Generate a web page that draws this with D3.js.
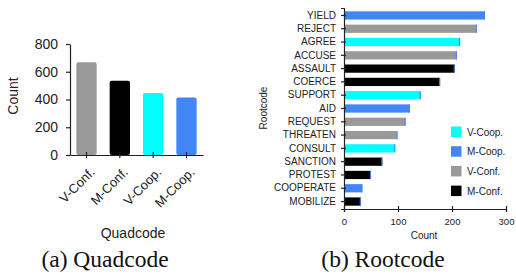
<!DOCTYPE html>
<html>
<head>
<meta charset="utf-8">
<script src="https://cdn.jsdelivr.net/npm/d3@7"></script>
<style>
  body { margin: 0; background: #fff; }
  svg { display: block; }
  .axis path, .axis line { stroke: #222; stroke-width: 1.2; }
  .axis text { fill: #222; font-family: "Liberation Sans", Arial, sans-serif; }
</style>
</head>
<body>
<script>
// ---- data ----
const quadCats = ["V-Conf.", "M-Conf.", "V-Coop.", "M-Coop."];
const quadValues = [668, 535, 447, 415];
const quadTicks = [0, 200, 400, 600, 800];

const rootCats = ["YIELD", "REJECT", "AGREE", "ACCUSE", "ASSAULT", "COERCE", "SUPPORT", "AID",
  "REQUEST", "THREATEN", "CONSULT", "SANCTION", "PROTEST", "COOPERATE", "MOBILIZE"];
const rootValues = [261, 246, 215, 209, 205, 178, 142, 122, 114, 99, 95, 71, 50, 34, 31];
const rootQuad = ["M-Coop.", "V-Conf.", "V-Coop.", "V-Conf.", "M-Conf.", "M-Conf.", "V-Coop.", "M-Coop.",
  "V-Conf.", "V-Conf.", "V-Coop.", "M-Conf.", "M-Conf.", "M-Coop.", "M-Conf."];
const rootTicks = [0, 100, 200, 300];
const legendItems = ["V-Coop.", "M-Coop.", "V-Conf.", "M-Conf."];

const colors = {
  "V-Conf.": "#999999",
  "M-Conf.": "#000000",
  "V-Coop.": "#00ffff",
  "M-Coop.": "#4285f4"
};

const width = 516;
const height = 275;
const sans = "'Liberation Sans', Arial, sans-serif";

let svg = d3.select("body").append("svg")
  .attr("width", width)
  .attr("height", height);

// ---- (a) Quadcode ----
const a = { left: 70, right: 203, top: 44, bottom: 155 };

let xA = d3.scaleBand()
  .domain(quadCats)
  .range([a.left, a.right])
  .paddingInner(0.39)
  .paddingOuter(0.19);

let yA = d3.scaleLinear()
  .domain([0, 800])
  .range([a.bottom, a.top]);

svg.selectAll(".barA")
  .data(quadCats)
  .enter()
  .append("rect")
  .attr("class", "barA")
  .attr("x", d => xA(d))
  .attr("y", (d, i) => yA(quadValues[i]))
  .attr("width", xA.bandwidth())
  .attr("height", (d, i) => yA(0) - yA(quadValues[i]))
  .attr("rx", 2)
  .attr("fill", d => colors[d]);

let yAxisA = svg.append("g")
  .attr("class", "axis")
  .attr("transform", `translate(${a.left},0)`)
  .call(d3.axisLeft(yA).tickValues(quadTicks).tickSize(4).tickSizeOuter(0).tickPadding(8));
yAxisA.selectAll("text").style("font-size", "14px");

let xAxisA = svg.append("g")
  .attr("class", "axis")
  .attr("transform", `translate(0,${a.bottom})`)
  .call(d3.axisBottom(xA).tickSizeOuter(0));
xAxisA.selectAll(".tick line").attr("y1", -3).attr("y2", 3);
xAxisA.selectAll("text")
  .style("font-size", "13px")
  .style("text-anchor", "end")
  .attr("y", 0)
  .attr("dy", 0)
  .attr("transform", "translate(9,18) rotate(-45)");

svg.append("text")
  .attr("transform", "translate(18,96) rotate(-90)")
  .attr("text-anchor", "middle")
  .style("font-family", sans)
  .style("font-size", "14px")
  .attr("fill", "#222")
  .text("Count");

svg.append("text")
  .attr("x", 133)
  .attr("y", 238)
  .attr("text-anchor", "middle")
  .style("font-family", sans)
  .style("font-size", "14px")
  .attr("fill", "#222")
  .text("Quadcode");

// ---- (b) Rootcode ----
const b = { left: 344, right: 506, top: 8, bottom: 209 };

let yB = d3.scaleBand()
  .domain(rootCats)
  .range([b.top, b.bottom])
  .paddingInner(0.38)
  .paddingOuter(0.25);

let xB = d3.scaleLinear()
  .domain([0, 300])
  .range([b.left, b.right]);

svg.selectAll(".barB")
  .data(rootCats)
  .enter()
  .append("rect")
  .attr("class", "barB")
  .attr("x", xB(0))
  .attr("y", d => yB(d))
  .attr("width", (d, i) => xB(rootValues[i]) - xB(0))
  .attr("height", yB.bandwidth())
  .attr("fill", (d, i) => colors[rootQuad[i]]);

// thin blue edge at the end of each bar
svg.selectAll(".barEdge")
  .data(rootCats)
  .enter()
  .append("rect")
  .attr("class", "barEdge")
  .attr("x", (d, i) => xB(rootValues[i]) - 1)
  .attr("y", d => yB(d))
  .attr("width", 1)
  .attr("height", yB.bandwidth())
  .attr("fill", colors["M-Coop."]);

let yAxisB = svg.append("g")
  .attr("class", "axis")
  .attr("transform", `translate(${b.left},0)`)
  .call(d3.axisLeft(yB).tickSizeOuter(0).tickSize(3).tickPadding(5));
yAxisB.selectAll(".tick line").attr("x1", -3).attr("x2", 2);
yAxisB.selectAll("text").style("font-size", "10px");

let xAxisB = svg.append("g")
  .attr("class", "axis")
  .attr("transform", `translate(0,${b.bottom})`)
  .call(d3.axisBottom(xB).tickValues(rootTicks).tickSizeOuter(0).tickSize(3).tickPadding(6));
xAxisB.selectAll(".tick line").attr("y1", -3).attr("y2", 3);
xAxisB.selectAll("text").style("font-size", "9.5px");

svg.append("text")
  .attr("transform", "translate(267,108) rotate(-90)")
  .attr("text-anchor", "middle")
  .style("font-family", sans)
  .style("font-size", "10px")
  .attr("fill", "#222")
  .text("Rootcode");

svg.append("text")
  .attr("x", 424)
  .attr("y", 239)
  .attr("text-anchor", "middle")
  .style("font-family", sans)
  .style("font-size", "10px")
  .attr("fill", "#222")
  .text("Count");

// legend
let legend = svg.selectAll(".legend")
  .data(legendItems)
  .enter()
  .append("g")
  .attr("class", "legend")
  .attr("transform", (d, i) => `translate(451,${132 + i * 19.7})`);

legend.append("rect")
  .attr("x", 0)
  .attr("y", -5.5)
  .attr("width", 10.5)
  .attr("height", 10.5)
  .attr("fill", d => colors[d]);

legend.append("text")
  .attr("x", 16)
  .attr("y", 3.5)
  .style("font-family", sans)
  .style("font-size", "10px")
  .attr("fill", "#222")
  .text(d => d);

// captions
svg.append("text")
  .attr("x", 105)
  .attr("y", 267)
  .attr("text-anchor", "middle")
  .style("font-family", "'Liberation Serif', 'Times New Roman', serif")
  .style("font-size", "23.5px")
  .attr("fill", "#111")
  .text("(a) Quadcode");

svg.append("text")
  .attr("x", 383)
  .attr("y", 267)
  .attr("text-anchor", "middle")
  .style("font-family", "'Liberation Serif', 'Times New Roman', serif")
  .style("font-size", "23.5px")
  .attr("fill", "#111")
  .text("(b) Rootcode");
</script>
</body>
</html>
